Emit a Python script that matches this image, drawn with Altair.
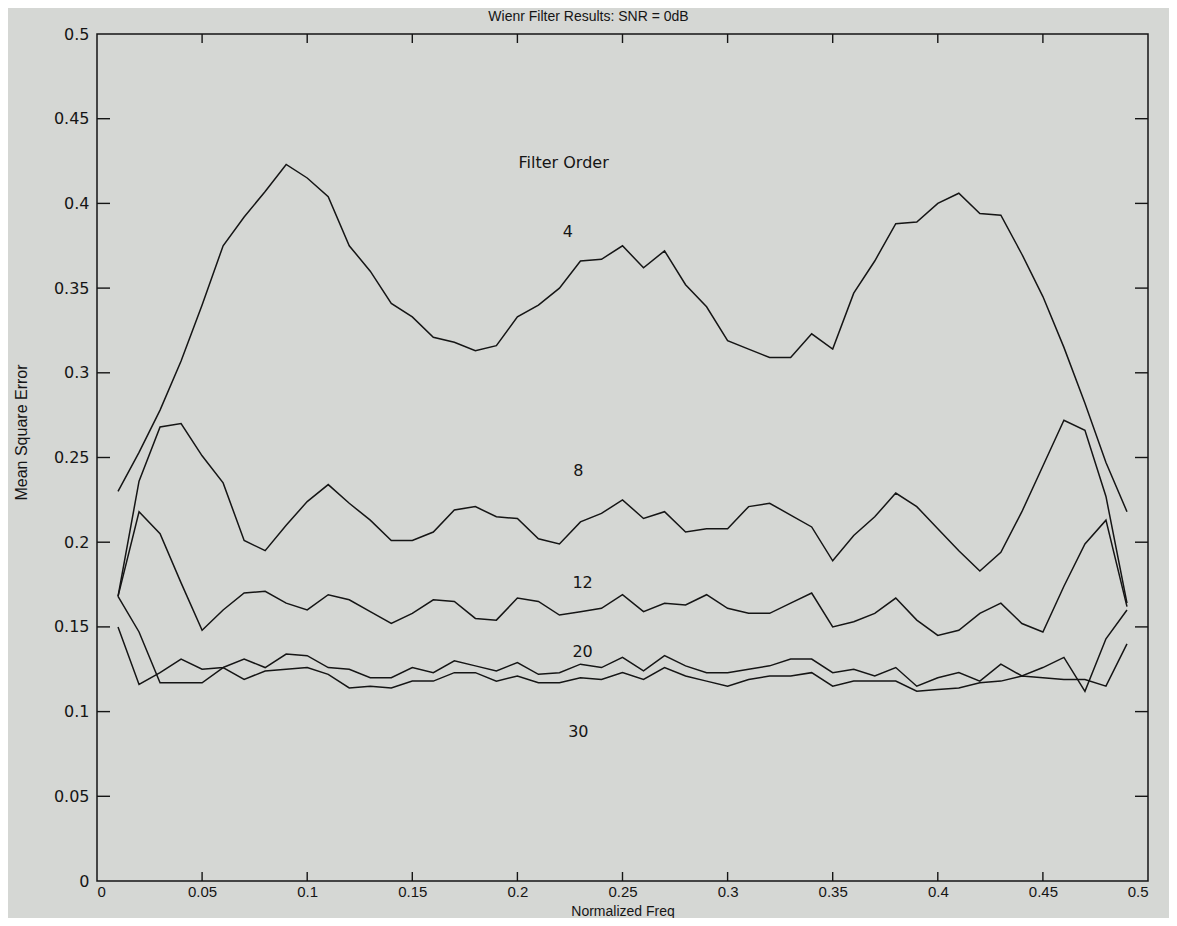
import altair as alt
import pandas as pd

# ---- data ----
freq = [round(0.01 * i, 2) for i in range(1, 50)]

mse_order4 = [0.230, 0.253, 0.278, 0.307, 0.340, 0.375, 0.392, 0.407, 0.423, 0.415,
              0.404, 0.375, 0.360, 0.341, 0.333, 0.321, 0.318, 0.313, 0.316, 0.333,
              0.340, 0.350, 0.366, 0.367, 0.375, 0.362, 0.372, 0.352, 0.339, 0.319,
              0.314, 0.309, 0.309, 0.323, 0.314, 0.347, 0.366, 0.388, 0.389, 0.400,
              0.406, 0.394, 0.393, 0.370, 0.345, 0.315, 0.282, 0.247, 0.218]
mse_order8 = [0.168, 0.236, 0.268, 0.270, 0.251, 0.235, 0.201, 0.195, 0.210, 0.224,
              0.234, 0.223, 0.213, 0.201, 0.201, 0.206, 0.219, 0.221, 0.215, 0.214,
              0.202, 0.199, 0.212, 0.217, 0.225, 0.214, 0.218, 0.206, 0.208, 0.208,
              0.221, 0.223, 0.216, 0.209, 0.189, 0.204, 0.215, 0.229, 0.221, 0.208,
              0.195, 0.183, 0.194, 0.218, 0.245, 0.272, 0.266, 0.227, 0.164]
mse_order12 = [0.168, 0.218, 0.205, 0.176, 0.148, 0.160, 0.170, 0.171, 0.164, 0.160,
               0.169, 0.166, 0.159, 0.152, 0.158, 0.166, 0.165, 0.155, 0.154, 0.167,
               0.165, 0.157, 0.159, 0.161, 0.169, 0.159, 0.164, 0.163, 0.169, 0.161,
               0.158, 0.158, 0.164, 0.170, 0.150, 0.153, 0.158, 0.167, 0.154, 0.145,
               0.148, 0.158, 0.164, 0.152, 0.147, 0.174, 0.199, 0.213, 0.162]
mse_order20 = [0.150, 0.116, 0.123, 0.131, 0.125, 0.126, 0.131, 0.126, 0.134, 0.133,
               0.126, 0.125, 0.120, 0.120, 0.126, 0.123, 0.130, 0.127, 0.124, 0.129,
               0.122, 0.123, 0.128, 0.126, 0.132, 0.124, 0.133, 0.127, 0.123, 0.123,
               0.125, 0.127, 0.131, 0.131, 0.123, 0.125, 0.121, 0.126, 0.115, 0.120,
               0.123, 0.118, 0.128, 0.121, 0.126, 0.132, 0.112, 0.143, 0.160]
mse_order30 = [0.168, 0.147, 0.117, 0.117, 0.117, 0.126, 0.119, 0.124, 0.125, 0.126,
               0.122, 0.114, 0.115, 0.114, 0.118, 0.118, 0.123, 0.123, 0.118, 0.121,
               0.117, 0.117, 0.120, 0.119, 0.123, 0.119, 0.126, 0.121, 0.118, 0.115,
               0.119, 0.121, 0.121, 0.123, 0.115, 0.118, 0.118, 0.118, 0.112, 0.113,
               0.114, 0.117, 0.118, 0.121, 0.120, 0.119, 0.119, 0.115, 0.140]

orders = ["4", "8", "12", "20", "30"]
series = [mse_order4, mse_order8, mse_order12, mse_order20, mse_order30]

x_ticks = [0, 0.05, 0.1, 0.15, 0.2, 0.25, 0.3, 0.35, 0.4, 0.45, 0.5]
y_ticks = [0, 0.05, 0.1, 0.15, 0.2, 0.25, 0.3, 0.35, 0.4, 0.45, 0.5]
inner_x_ticks = x_ticks[1:-1]
inner_y_ticks = y_ticks[1:-1]

ann_text = ["Filter Order", "4", "8", "12", "20", "30"]
ann_x = [0.222, 0.224, 0.229, 0.231, 0.231, 0.229]
ann_y = [0.424, 0.383, 0.242, 0.176, 0.135, 0.088]

# ---- tables ----
rows = []
for o, s in zip(orders, series):
    for f, v in zip(freq, s):
        rows.append({"freq": f, "mse": v, "order": o})
df = pd.DataFrame(rows)
ann = pd.DataFrame({"label": ann_text, "fx": ann_x, "fy": ann_y})
xt = pd.DataFrame({"t": inner_x_ticks})
yt = pd.DataFrame({"t": inner_y_ticks})

W, H = 1051, 847
INK = "#151515"
BG = "#d5d7d4"
xscale = alt.Scale(domain=[0, 0.5], nice=False, zero=False)
yscale = alt.Scale(domain=[0, 0.5], nice=False, zero=False)

x_axis = alt.Axis(values=x_ticks, format="~g", title="Normalized Freq",
                  ticks=False, domain=False, grid=False, labelPadding=3,
                  labelFont="Liberation Sans Narrow, Liberation Sans", labelFontSize=15,
                  labelColor=INK, titleFont="Liberation Sans Narrow, Liberation Sans",
                  titleFontSize=14, titleFontWeight="normal", titleColor=INK,
                  titleY=30, titleBaseline="middle")
y_axis = alt.Axis(values=y_ticks, format="~g", title="Mean Square Error",
                  ticks=False, domain=False, grid=False, labelPadding=8,
                  labelFont="DejaVu Sans", labelFontSize=16, labelColor=INK,
                  titleFont="Liberation Sans Narrow, Liberation Sans", titleFontSize=16,
                  titleFontWeight="normal", titleColor=INK,
                  titleX=-68, titleY=398, titleAlign="center", titleBaseline="bottom")

lines = alt.Chart(df).mark_line(color=INK, strokeWidth=1.5).encode(
    x=alt.X("freq:Q", scale=xscale, axis=x_axis),
    y=alt.Y("mse:Q", scale=yscale, axis=y_axis),
    detail="order:N",
)

text = alt.Chart(ann).mark_text(font="DejaVu Sans", fontSize=16, color=INK).encode(
    x=alt.X("fx:Q", scale=xscale),
    y=alt.Y("fy:Q", scale=yscale),
    text="label:N",
)

tick_style = dict(color=INK, strokeWidth=1.4)
xt_bottom = alt.Chart(xt).mark_rule(**tick_style).encode(
    x=alt.X("t:Q", scale=xscale), y=alt.value(H - 9), y2=alt.value(H))
xt_top = alt.Chart(xt).mark_rule(**tick_style).encode(
    x=alt.X("t:Q", scale=xscale), y=alt.value(0), y2=alt.value(9))
yt_left = alt.Chart(yt).mark_rule(**tick_style).encode(
    y=alt.Y("t:Q", scale=yscale), x=alt.value(0), x2=alt.value(13))
yt_right = alt.Chart(yt).mark_rule(**tick_style).encode(
    y=alt.Y("t:Q", scale=yscale), x=alt.value(W - 13), x2=alt.value(W))

chart = alt.layer(lines, text, xt_bottom, xt_top, yt_left, yt_right).properties(
    width=W, height=H,
    title=alt.TitleParams("Wienr Filter Results: SNR = 0dB", font="Liberation Sans",
                          fontSize=14, fontWeight="normal", color=INK, anchor="middle",
                          offset=2, dx=-34),
    background=BG,
    autosize=alt.AutoSizeParams(type="none"),
    padding={"left": 89, "top": 26, "right": 21, "bottom": 37},
).configure_view(stroke=INK, strokeWidth=1.5, fill=BG)

chart.save("out.html", embed_options={"renderer": "svg", "actions": False})
